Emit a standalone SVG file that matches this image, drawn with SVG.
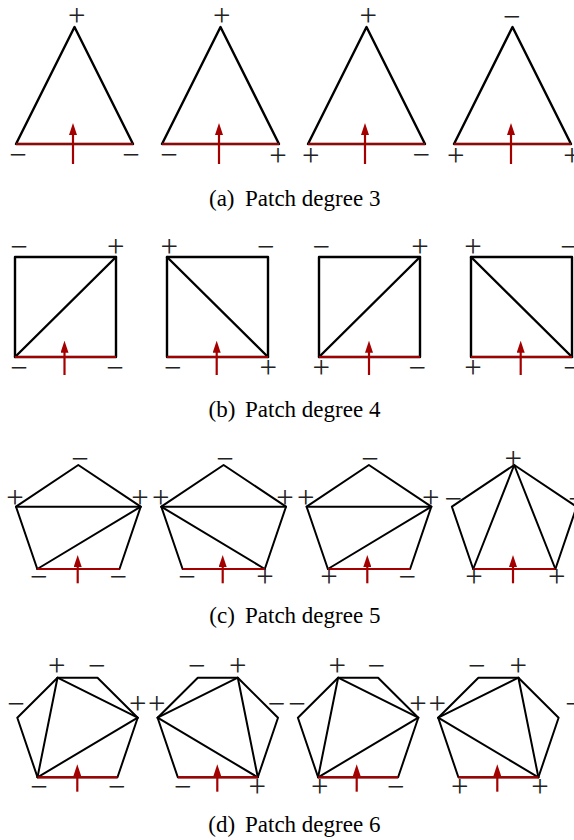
<svg xmlns="http://www.w3.org/2000/svg" width="574" height="840" viewBox="0 0 574 840">
<style>
.e{fill:none;stroke:#000;stroke-width:2.1;stroke-linejoin:round;stroke-linecap:round}
.t{stroke-width:2.4}
.p{stroke-width:2}
.b{fill:none;stroke:#a50000;stroke-width:2.2}
.a{fill:none;stroke:#a50000;stroke-width:2.2;marker-end:url(#ah)}
.l{font-family:"Liberation Serif","Times New Roman",serif;font-size:31px;text-anchor:middle;fill:#222}
.c{font-family:"Liberation Serif","Times New Roman",serif;font-size:23px;fill:#000}
</style>
<defs>
<marker id="ah" viewBox="0 0 12 8" refX="2" refY="4" markerWidth="12" markerHeight="8" markerUnits="userSpaceOnUse" orient="auto">
<path d="M0,0 L12,4 L0,8 z" fill="#a50000"/>
</marker>
</defs>
<rect width="574" height="840" fill="#fff"/>

<!-- Row (a) triangles -->
<g id="tri1">
<polygon class="e t" points="74.5,27 16,144 133,144"/>
<line class="b" x1="16" y1="144" x2="133" y2="144"/>
<text class="l" x="76.7" y="25.8">+</text>
<text class="l" x="18" y="165.3">−</text>
<text class="l" x="131" y="165.3">−</text>
</g>
<g id="tri2">
<polygon class="e t" points="220.5,27 162,144 279,144"/>
<line class="b" x1="162" y1="144" x2="279" y2="144"/>
<text class="l" x="221.7" y="25.8">+</text>
<text class="l" x="169" y="165.3">−</text>
<text class="l" x="278" y="165.8">+</text>
</g>
<g id="tri3">
<polygon class="e t" points="366.5,27 308,144 425,144"/>
<line class="b" x1="308" y1="144" x2="425" y2="144"/>
<text class="l" x="368.3" y="25.8">+</text>
<text class="l" x="310.7" y="165.8">+</text>
<text class="l" x="421.3" y="165.3">−</text>
</g>
<g id="tri4">
<polygon class="e t" points="512.5,27 454,144 571,144"/>
<line class="b" x1="454" y1="144" x2="571" y2="144"/>
<text class="l" x="511.7" y="26.8">−</text>
<text class="l" x="455.7" y="165.8">+</text>
<text class="l" x="572" y="165.8">+</text>
</g>
<g id="capA">
<text class="c" x="209" y="206">(a)</text>
<text class="c" x="245" y="206">Patch degree 3</text>
</g>

<!-- Row (b) squares -->
<g id="sq1">
<rect class="e t" x="15" y="257" width="101" height="100"/>
<line class="e t" x1="15" y1="357" x2="116" y2="257"/>
<line class="b" x1="15" y1="357" x2="116" y2="357"/>
<text class="l" x="19" y="256.8">−</text>
<text class="l" x="115.7" y="256.8">+</text>
<text class="l" x="19" y="377.8">−</text>
<text class="l" x="115" y="377.8">−</text>
</g>
<g id="sq2">
<rect class="e t" x="167" y="257" width="101" height="100"/>
<line class="e t" x1="167" y1="257" x2="268" y2="357"/>
<line class="b" x1="167" y1="357" x2="268" y2="357"/>
<text class="l" x="169.3" y="256.8">+</text>
<text class="l" x="265.7" y="256.8">−</text>
<text class="l" x="172.7" y="377.8">−</text>
<text class="l" x="268.3" y="378.3">+</text>
</g>
<g id="sq3">
<rect class="e t" x="319" y="257" width="101" height="100"/>
<line class="e t" x1="319" y1="357" x2="420" y2="257"/>
<line class="b" x1="319" y1="357" x2="420" y2="357"/>
<text class="l" x="321.3" y="256.8">−</text>
<text class="l" x="420" y="256.8">+</text>
<text class="l" x="321.3" y="378.3">+</text>
<text class="l" x="417.3" y="377.8">−</text>
</g>
<g id="sq4">
<rect class="e t" x="471" y="257" width="101" height="100"/>
<line class="e t" x1="471" y1="257" x2="572" y2="357"/>
<line class="b" x1="471" y1="357" x2="572" y2="357"/>
<text class="l" x="473" y="256.8">+</text>
<text class="l" x="569" y="256.8">−</text>
<text class="l" x="473" y="378.3">+</text>
<text class="l" x="572" y="377.8">−</text>
</g>
<g id="capB">
<text class="c" x="208.5" y="416.5">(b)</text>
<text class="c" x="245" y="416.5">Patch degree 4</text>
</g>

<!-- Row (c) pentagons -->
<g id="pent1">
<polygon class="e p" points="78.3,465 140.7,506.7 119.5,569 37.3,569 16,506.7"/>
<line class="e p" x1="16" y1="506.7" x2="140.7" y2="506.7"/>
<line class="e p" x1="37.3" y1="569" x2="140.7" y2="506.7"/>
<line class="b" x1="37.3" y1="569" x2="119.5" y2="569"/>
<text class="l" x="80" y="468.8">−</text>
<text class="l" x="15" y="508.3">+</text>
<text class="l" x="140" y="508.3">+</text>
<text class="l" x="38.8" y="586.8">−</text>
<text class="l" x="118.3" y="586.8">−</text>
</g>
<g id="pent2">
<polygon class="e p" points="223.6,465 286,506.7 264.8,569 182.6,569 161.3,506.7"/>
<line class="e p" x1="161.3" y1="506.7" x2="286" y2="506.7"/>
<line class="e p" x1="161.3" y1="506.7" x2="264.8" y2="569"/>
<line class="b" x1="182.6" y1="569" x2="264.8" y2="569"/>
<text class="l" x="225" y="468.8">−</text>
<text class="l" x="160.7" y="508.3">+</text>
<text class="l" x="285" y="508.3">+</text>
<text class="l" x="187" y="586.8">−</text>
<text class="l" x="265" y="587.3">+</text>
</g>
<g id="pent3">
<polygon class="e p" points="368.9,465 431.3,506.7 410.1,569 327.9,569 306.6,506.7"/>
<line class="e p" x1="306.6" y1="506.7" x2="431.3" y2="506.7"/>
<line class="e p" x1="327.9" y1="569" x2="431.3" y2="506.7"/>
<line class="b" x1="327.9" y1="569" x2="410.1" y2="569"/>
<text class="l" x="370" y="468.8">−</text>
<text class="l" x="305.7" y="508.3">+</text>
<text class="l" x="430.7" y="508.3">+</text>
<text class="l" x="329" y="587.3">+</text>
<text class="l" x="407.3" y="586.8">−</text>
</g>
<g id="pent4">
<polygon class="e p" points="514.2,465 576.6,506.7 555.4,569 473.2,569 451.9,506.7"/>
<line class="e p" x1="514.2" y1="465" x2="473.2" y2="569"/>
<line class="e p" x1="514.2" y1="465" x2="555.4" y2="569"/>
<line class="b" x1="473.2" y1="569" x2="555.4" y2="569"/>
<text class="l" x="513.3" y="468.5">+</text>
<text class="l" x="453.3" y="509">−</text>
<text class="l" x="577" y="509">−</text>
<text class="l" x="474" y="587.3">+</text>
<text class="l" x="556.7" y="587.3">+</text>
</g>
<g id="capC">
<text class="c" x="209.3" y="623.3">(c)</text>
<text class="c" x="245" y="623.3">Patch degree 5</text>
</g>

<!-- Row (d) hexagons -->
<g id="hex1">
<polygon class="e p" points="57.5,677.7 97.5,677.7 137.7,717.7 117.5,777.3 37.5,777.3 17.3,717.7"/>
<line class="e p" x1="57.5" y1="677.7" x2="37.5" y2="777.3"/>
<line class="e p" x1="57.5" y1="677.7" x2="137.7" y2="717.7"/>
<line class="e p" x1="37.5" y1="777.3" x2="137.7" y2="717.7"/>
<line class="b" x1="37.5" y1="777.3" x2="117.5" y2="777.3"/>
<text class="l" x="56.7" y="675.8">+</text>
<text class="l" x="96.7" y="675.8">−</text>
<text class="l" x="137.7" y="714.1">+</text>
<text class="l" x="16" y="714.1">−</text>
<text class="l" x="39" y="796.8">−</text>
<text class="l" x="116.7" y="796.8">−</text>
</g>
<g id="hex2">
<polygon class="e p" points="197.8,677.7 237.8,677.7 278,717.7 257.8,777.3 177.8,777.3 157.6,717.7"/>
<line class="e p" x1="157.6" y1="717.7" x2="237.8" y2="677.7"/>
<line class="e p" x1="157.6" y1="717.7" x2="257.8" y2="777.3"/>
<line class="e p" x1="237.8" y1="677.7" x2="257.8" y2="777.3"/>
<line class="b" x1="177.8" y1="777.3" x2="257.8" y2="777.3"/>
<text class="l" x="196.7" y="675.8">−</text>
<text class="l" x="237.7" y="675.8">+</text>
<text class="l" x="276.5" y="714.1">−</text>
<text class="l" x="156.7" y="714.1">+</text>
<text class="l" x="182.7" y="796.8">−</text>
<text class="l" x="257.3" y="796.8">+</text>
</g>
<g id="hex3">
<polygon class="e p" points="338.1,677.7 378.1,677.7 418.3,717.7 398.1,777.3 318.1,777.3 297.9,717.7"/>
<line class="e p" x1="338.1" y1="677.7" x2="318.1" y2="777.3"/>
<line class="e p" x1="338.1" y1="677.7" x2="418.3" y2="717.7"/>
<line class="e p" x1="318.1" y1="777.3" x2="418.3" y2="717.7"/>
<line class="b" x1="318.1" y1="777.3" x2="398.1" y2="777.3"/>
<text class="l" x="337.3" y="675.8">+</text>
<text class="l" x="376.3" y="675.8">−</text>
<text class="l" x="418" y="714.1">+</text>
<text class="l" x="297" y="714.1">−</text>
<text class="l" x="319.7" y="796.8">+</text>
<text class="l" x="395.7" y="796.8">−</text>
</g>
<g id="hex4">
<polygon class="e p" points="478.4,677.7 518.4,677.7 558.6,717.7 538.4,777.3 458.4,777.3 438.2,717.7"/>
<line class="e p" x1="438.2" y1="717.7" x2="518.4" y2="677.7"/>
<line class="e p" x1="438.2" y1="717.7" x2="538.4" y2="777.3"/>
<line class="e p" x1="518.4" y1="677.7" x2="538.4" y2="777.3"/>
<line class="b" x1="458.4" y1="777.3" x2="538.4" y2="777.3"/>
<text class="l" x="476.7" y="675.8">−</text>
<text class="l" x="518.3" y="675.8">+</text>
<text class="l" x="574" y="714.1">−</text>
<text class="l" x="437.3" y="714.1">+</text>
<text class="l" x="459.7" y="796.8">+</text>
<text class="l" x="540" y="796.8">+</text>
</g>
<g id="capD">
<text class="c" x="208.3" y="831.7">(d)</text>
<text class="c" x="245" y="831.7">Patch degree 6</text>
</g>

<!-- arrows (connectors) -->
<g id="arrows">
<line class="a" x1="73" y1="164" x2="73" y2="133"/>
<line class="a" x1="219" y1="164" x2="219" y2="133"/>
<line class="a" x1="365" y1="164" x2="365" y2="133"/>
<line class="a" x1="511" y1="164" x2="511" y2="133"/>
<line class="a" x1="64.5" y1="375" x2="64.5" y2="350.7"/>
<line class="a" x1="216.7" y1="375" x2="216.7" y2="350.7"/>
<line class="a" x1="369" y1="375" x2="369" y2="350.7"/>
<line class="a" x1="520.7" y1="375" x2="520.7" y2="350.7"/>
<line class="a" x1="77.7" y1="583.3" x2="77.7" y2="565"/>
<line class="a" x1="222.7" y1="583.3" x2="222.7" y2="565"/>
<line class="a" x1="367.3" y1="583.3" x2="367.3" y2="565"/>
<line class="a" x1="513" y1="583.3" x2="513" y2="565"/>
<line class="a" x1="77.3" y1="791.7" x2="77.3" y2="774.3"/>
<line class="a" x1="217.3" y1="791.7" x2="217.3" y2="774.3"/>
<line class="a" x1="356.7" y1="791.7" x2="356.7" y2="774.3"/>
<line class="a" x1="497.3" y1="791.7" x2="497.3" y2="774.3"/>
</g>
</svg>
